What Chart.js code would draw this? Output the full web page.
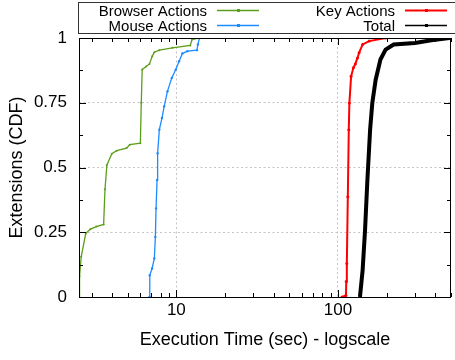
<!DOCTYPE html>
<html>
<head>
<meta charset="utf-8">
<script src="https://cdn.jsdelivr.net/npm/chart.js@4.4.1/dist/chart.umd.min.js"></script>
<style>
  html, body { margin: 0; padding: 0; background: #fff; }
  #wrap { width: 455px; height: 360px; }
</style>
</head>
<body>
<div id="wrap"><canvas id="cdf"></canvas></div>
<script>
// values (x in seconds, y = CDF)
const browserX = [2.5, 2.52, 2.58, 2.75, 2.94, 3.2, 3.55, 3.62, 3.72, 3.99, 4.28, 4.92, 5.15, 5.99, 6.07, 6.15, 6.5, 6.82, 7.1, 7.31, 7.85, 9.46, 12.2, 12.5, 13.7];
const browserY = [0, 0.08, 0.155, 0.245, 0.262, 0.272, 0.28, 0.416, 0.51, 0.553, 0.565, 0.575, 0.588, 0.594, 0.75, 0.878, 0.89, 0.9, 0.93, 0.945, 0.953, 0.962, 0.971, 0.994, 1];

const mouseX = [6.82, 6.85, 7.08, 7.31, 7.42, 7.49, 7.6, 7.66, 7.85, 8.15, 8.41, 8.81, 9.37, 9.92, 10.4, 10.9, 11.7, 13.4, 13.6, 13.9];
const mouseY = [0, 0.084, 0.11, 0.149, 0.232, 0.342, 0.452, 0.555, 0.646, 0.691, 0.736, 0.794, 0.846, 0.878, 0.91, 0.94, 0.949, 0.953, 0.975, 1];

const keyX = [106, 112, 112.5, 113.4, 115, 116.6, 117.6, 120.5, 124.5, 128, 132, 135, 142, 156, 197];
const keyY = [0, 0.006, 0.06, 0.129, 0.387, 0.646, 0.749, 0.852, 0.885, 0.9, 0.923, 0.943, 0.975, 0.988, 1];

const totalX = [136.7, 142, 147, 152, 158, 163, 171, 183, 197, 221, 299, 378, 489, 500];
const totalY = [0, 0.103, 0.258, 0.452, 0.646, 0.749, 0.839, 0.917, 0.955, 0.975, 0.981, 0.991, 1, 1];

const labels = ["Browser Actions", "Mouse Actions", "Key Actions", "Total"];
const colors = ["#5c9e1a", "#1e8cff", "#ff0000", "#000000"];

const xMajor = [10, 100];
const xMinor = [3, 4, 5, 6, 7, 8, 9, 20, 30, 40, 50, 60, 70, 80, 90, 200, 300, 400, 500];
const yMajor = [0.25, 0.5, 0.75];
const yMinor = [0.125, 0.375, 0.625, 0.875];

const FONT = "'Liberation Sans', Arial, sans-serif";
const GRID = "#c4c4c4";

const toPoints = (xs, ys) => xs.map((x, i) => ({ x: x, y: ys[i] }));

// gnuplot style frame with inward ticks on all four sides
const framePlugin = {
  id: "frame",
  afterDatasetsDraw(chart) {
    const { ctx, chartArea: a, scales } = chart;
    const xs = scales.x, ys = scales.y;
    ctx.save();
    ctx.strokeStyle = "#000";
    ctx.lineWidth = 1;
    ctx.beginPath();
    const tick = (vals, len, horiz) => {
      vals.forEach((v) => {
        if (horiz) {
          const px = Math.round(xs.getPixelForValue(v)) + 0.5;
          ctx.moveTo(px, a.bottom); ctx.lineTo(px, a.bottom - len);
          ctx.moveTo(px, a.top); ctx.lineTo(px, a.top + len);
        } else {
          const py = Math.round(ys.getPixelForValue(v)) + 0.5;
          ctx.moveTo(a.left, py); ctx.lineTo(a.left + len, py);
          ctx.moveTo(a.right, py); ctx.lineTo(a.right - len, py);
        }
      });
    };
    tick(xMajor, 7, true);
    tick(xMinor, 4, true);
    tick(yMajor, 7, false);
    tick(yMinor, 4, false);
    ctx.stroke();
    ctx.strokeRect(a.left + 0.5, a.top + 0.5, a.right - a.left - 1, a.bottom - a.top);
    ctx.restore();
  },
};

// key box above the plot, two columns like the original
const keyPlugin = {
  id: "keybox",
  afterDraw(chart) {
    const ctx = chart.ctx;
    const left = chart.chartArea.left - 1;
    ctx.save();
    ctx.strokeStyle = "#333";
    ctx.lineWidth = 1;
    ctx.strokeRect(left + 0.5, 2.5, 455 - left, 31);
    ctx.font = "15px " + FONT;
    ctx.textAlign = "right";
    ctx.textBaseline = "middle";
    const cols = [207, 395];
    const rows = [10.5, 25.5];
    chart.data.datasets.forEach((ds, i) => {
      const col = cols[Math.floor(i / 2)];
      const row = rows[i % 2];
      ctx.fillStyle = "#000";
      ctx.fillText(ds.label, col, row + 1);
      ctx.strokeStyle = ds.borderColor;
      ctx.lineWidth = i === 2 ? 2 : 1.3;
      ctx.beginPath();
      ctx.moveTo(col + 10, row);
      ctx.lineTo(col + 52, row);
      ctx.stroke();
      ctx.fillStyle = ds.borderColor;
      ctx.fillRect(col + 30, row - 1.5, 3, 3);
    });
    ctx.restore();
  },
};

const datasets = [
  { label: labels[0], data: toPoints(browserX, browserY), borderColor: colors[0], backgroundColor: colors[0], borderWidth: 1.3, pointRadius: 1, pointBorderWidth: 0 },
  { label: labels[1], data: toPoints(mouseX, mouseY), borderColor: colors[1], backgroundColor: colors[1], borderWidth: 1.3, pointRadius: 1.2, pointBorderWidth: 0 },
  { label: labels[2], data: toPoints(keyX, keyY), borderColor: colors[2], backgroundColor: colors[2], borderWidth: 2, pointRadius: 1.5, pointBorderWidth: 0 },
  { label: labels[3], data: toPoints(totalX, totalY), borderColor: colors[3], backgroundColor: colors[3], borderWidth: 4, pointRadius: 0 },
];

new Chart(document.getElementById("cdf"), {
  type: "line",
  data: { datasets: datasets },
  options: {
    responsive: true,
    maintainAspectRatio: false,
    animation: false,
    layout: { padding: { top: 38, right: 0, left: 0, bottom: 0 } },
    plugins: { legend: { display: false }, tooltip: { enabled: false } },
    elements: { line: { tension: 0 } },
    scales: {
      x: {
        type: "logarithmic",
        min: 2.5,
        max: 500,
        afterBuildTicks: (s) => { s.ticks = xMajor.map((v) => ({ value: v })); },
        afterFit: (s) => { s.height = 63; },
        ticks: { color: "#000", font: { family: FONT, size: 17 }, padding: 3, maxRotation: 0, autoSkip: false, callback: (v) => String(v) },
        grid: { drawTicks: false, color: GRID, lineWidth: 1 },
        border: { display: false, dash: [2, 2.5] },
        title: { display: true, text: "Execution Time (sec) - logscale", color: "#000", font: { family: FONT, size: 18 }, padding: { top: 0, bottom: 9 } },
      },
      y: {
        min: 0,
        max: 1,
        afterFit: (s) => { s.width = 79; },
        ticks: { stepSize: 0.25, color: "#000", font: { family: FONT, size: 17 }, padding: 12, callback: (v) => String(v) },
        grid: {
          drawTicks: false,
          lineWidth: 1,
          color: (c) => (c.tick && (c.tick.value === 0 || c.tick.value === 1) ? "rgba(0,0,0,0)" : GRID),
        },
        border: { display: false, dash: [2, 2.5] },
        title: { display: true, text: "Extensions (CDF)", color: "#000", font: { family: FONT, size: 18 }, padding: { top: 6, bottom: 0 } },
      },
    },
  },
  plugins: [framePlugin, keyPlugin],
});
</script>
</body>
</html>
